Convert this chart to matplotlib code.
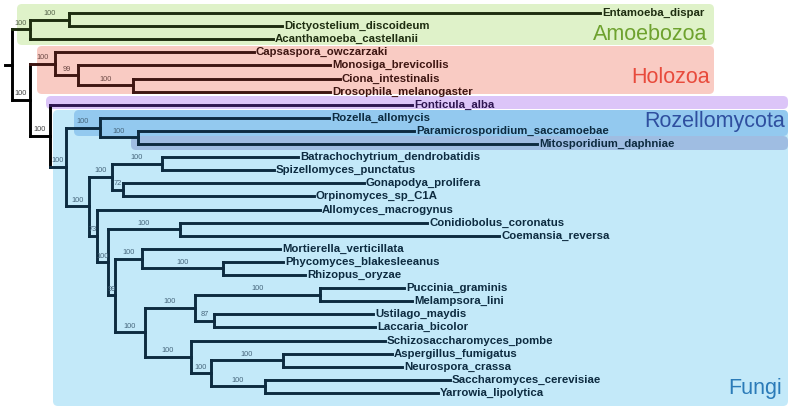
import matplotlib.pyplot as plt
from matplotlib.patches import FancyBboxPatch

plt.rcParams['font.family'] = ['Liberation Sans', 'DejaVu Sans']

# tips, top to bottom, with their depth (branch length from root, drawing units)
tip_names = [
    'Entamoeba_dispar', 'Dictyostelium_discoideum', 'Acanthamoeba_castellanii',
    'Capsaspora_owczarzaki', 'Monosiga_brevicollis', 'Ciona_intestinalis',
    'Drosophila_melanogaster', 'Fonticula_alba', 'Rozella_allomycis',
    'Paramicrosporidium_saccamoebae', 'Mitosporidium_daphniae',
    'Batrachochytrium_dendrobatidis', 'Spizellomyces_punctatus',
    'Gonapodya_prolifera', 'Orpinomyces_sp_C1A', 'Allomyces_macrogynus',
    'Conidiobolus_coronatus', 'Coemansia_reversa', 'Mortierella_verticillata',
    'Phycomyces_blakesleeanus', 'Rhizopus_oryzae', 'Puccinia_graminis',
    'Melampsora_lini', 'Ustilago_maydis', 'Laccaria_bicolor',
    'Schizosaccharomyces_pombe', 'Aspergillus_fumigatus', 'Neurospora_crassa',
    'Saccharomyces_cerevisiae', 'Yarrowia_lipolytica',
]
tip_depth = [600, 282, 273, 254, 330, 340, 330, 412, 329, 414, 537, 298, 274,
             364, 314, 320, 427, 499, 280, 283, 305, 404, 412, 373, 375, 385,
             392, 402, 450, 438]

# internal nodes: children, depth, bootstrap support
node_children = {
    'root': ['amoebozoa', 'obazoa'],
    'amoebozoa': ['ent_dic', 'Acanthamoeba_castellanii'],
    'ent_dic': ['Entamoeba_dispar', 'Dictyostelium_discoideum'],
    'obazoa': ['holozoa', 'holomycota'],
    'holozoa': ['Capsaspora_owczarzaki', 'choano_met'],
    'choano_met': ['Monosiga_brevicollis', 'metazoa'],
    'metazoa': ['Ciona_intestinalis', 'Drosophila_melanogaster'],
    'holomycota': ['Fonticula_alba', 'fungi'],
    'fungi': ['rozello', 'eumycota'],
    'rozello': ['Rozella_allomycis', 'microsp'],
    'microsp': ['Paramicrosporidium_saccamoebae', 'Mitosporidium_daphniae'],
    'eumycota': ['chytrid', 'rest'],
    'chytrid': ['batspi', 'gonorp'],
    'batspi': ['Batrachochytrium_dendrobatidis', 'Spizellomyces_punctatus'],
    'gonorp': ['Gonapodya_prolifera', 'Orpinomyces_sp_C1A'],
    'rest': ['Allomyces_macrogynus', 'terr'],
    'terr': ['zoopago', 'mucdik'],
    'zoopago': ['Conidiobolus_coronatus', 'Coemansia_reversa'],
    'mucdik': ['mucoro', 'dikarya'],
    'mucoro': ['Mortierella_verticillata', 'phyrhi'],
    'phyrhi': ['Phycomyces_blakesleeanus', 'Rhizopus_oryzae'],
    'dikarya': ['basidio', 'asco'],
    'basidio': ['puccmel', 'ustlac'],
    'puccmel': ['Puccinia_graminis', 'Melampsora_lini'],
    'ustlac': ['Ustilago_maydis', 'Laccaria_bicolor'],
    'asco': ['Schizosaccharomyces_pombe', 'saccharo'],
    'saccharo': ['aspneu', 'sacyar'],
    'aspneu': ['Aspergillus_fumigatus', 'Neurospora_crassa'],
    'sacyar': ['Saccharomyces_cerevisiae', 'Yarrowia_lipolytica'],
}
node_depth = {
    'root': 12, 'amoebozoa': 30, 'ent_dic': 69, 'obazoa': 30, 'holozoa': 55,
    'choano_met': 78, 'metazoa': 133, 'holomycota': 50, 'fungi': 66,
    'rozello': 100, 'microsp': 138, 'eumycota': 89, 'chytrid': 112,
    'batspi': 162, 'gonorp': 123, 'rest': 97, 'terr': 108, 'zoopago': 180,
    'mucdik': 115, 'mucoro': 142, 'phyrhi': 223, 'dikarya': 145,
    'basidio': 195, 'puccmel': 320, 'ustlac': 214, 'asco': 191,
    'saccharo': 211, 'aspneu': 283, 'sacyar': 265,
}
node_support = {
    'amoebozoa': 100, 'ent_dic': 100, 'obazoa': 100, 'holozoa': 100,
    'choano_met': 99, 'metazoa': 100, 'holomycota': 100, 'fungi': 100,
    'rozello': 100, 'microsp': 100, 'eumycota': 100, 'chytrid': 100,
    'batspi': 100, 'gonorp': 72, 'rest': 73, 'terr': 100, 'zoopago': 100,
    'mucdik': 99, 'mucoro': 100, 'phyrhi': 100, 'dikarya': 100,
    'basidio': 100, 'puccmel': 100, 'ustlac': 87, 'asco': 100,
    'saccharo': 100, 'aspneu': 100, 'sacyar': 100,
}

# colours per group
clade_of = {'amoebozoa': 'amoeb', 'holozoa': 'holo', 'Fonticula_alba': 'font', 'fungi': 'fungi'}
line_col = {'base': '#000000', 'amoeb': '#1e2d10', 'holo': '#3e1612',
            'font': '#2e1650', 'fungi': '#0d2b40'}
sup_col = {'base': '#444444', 'amoeb': '#56634a', 'holo': '#6e4a46',
           'font': '#5a4a70', 'fungi': '#46667c'}

# background boxes: x0, y0, x1, y1, colour
boxes = [
    (17, 4, 714, 45, '#dff2c9'),
    (37, 46, 714, 94, '#f9cbc3'),
    (46, 96, 788, 109, '#dcc5f8'),
    (53, 110, 788, 406, '#c3e9f9'),
    (74, 110, 788, 136, '#93c9ef'),
    (131, 136, 788, 150, '#9fbde2'),
]
group_labels = [
    ('Amoebozoa', 707, 40, '#6ea22e'),
    ('Holozoa', 710, 83, '#e84b3c'),
    ('Rozellomycota', 785, 127, '#2f4f9f'),
    ('Fungi', 782, 394, '#2b7bb8'),
]

fig = plt.figure(figsize=(7.95, 4.13), dpi=100)
ax = fig.add_axes([0, 0, 1, 1])
ax.set_xlim(0, 795)
ax.set_ylim(413, 0)
ax.axis('off')

for x0, y0, x1, y1, c in boxes:
    ax.add_patch(FancyBboxPatch((x0, y0), x1 - x0, y1 - y0,
                                boxstyle='round,pad=0,rounding_size=5',
                                fc=c, ec='none', zorder=1))
for txt, x, y, c in group_labels:
    ax.text(x, y, txt, fontsize=15.5, color=c, ha='right', va='baseline', zorder=2)

# leaf rows
row_y = {name: 13 + i * 13.1 for i, name in enumerate(tip_names)}
depth = dict(zip(tip_names, tip_depth))
depth.update(node_depth)


def layout(n):
    if n in row_y:
        return row_y[n]
    ys = [layout(c) for c in node_children[n]]
    row_y[n] = (ys[0] + ys[-1]) / 2
    return row_y[n]


layout('root')


def draw(n, px, clade):
    clade = clade_of.get(n, clade)
    col = line_col[clade]
    x, y = depth[n], row_y[n]
    ax.plot([px, x], [y, y], color=col, lw=2.1, solid_capstyle='projecting', zorder=3)
    if n in node_children:
        kids = node_children[n]
        ax.plot([x, x], [row_y[kids[0]], row_y[kids[-1]]], color=col, lw=2.1,
                solid_capstyle='projecting', zorder=3)
        if n in node_support:
            ax.text((px + x) / 2, y - 2.5, str(node_support[n]), fontsize=5.3,
                    color=sup_col[clade], ha='center', va='bottom', zorder=4)
        for c in kids:
            draw(c, x, clade)
    else:
        ax.text(x + 2, y, n, fontsize=8.2, fontweight='bold', color=col,
                ha='left', va='center', zorder=4)


draw('root', 5, 'base')

fig.savefig('out.png', dpi=100)
